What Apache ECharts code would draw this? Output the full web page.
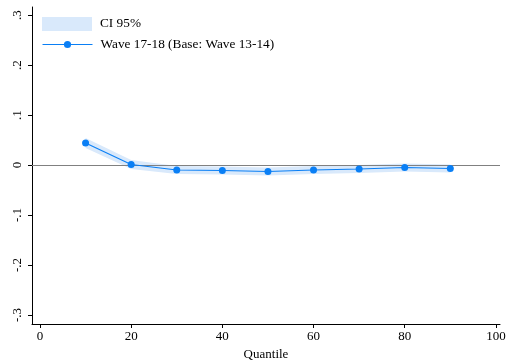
<!DOCTYPE html>
<html><head><meta charset="utf-8">
<script src="https://cdn.jsdelivr.net/npm/echarts@6/dist/echarts.min.js"></script>
<style>html,body{margin:0;padding:0;background:#fff}#c{width:508px;height:360px}</style>
</head><body><div id="c"></div>
<script>
const quantiles = [10, 20, 30, 40, 50, 60, 70, 80, 90];
const estimate = [0.044, 0.001, -0.010, -0.011, -0.013, -0.010, -0.008, -0.005, -0.007];
const ciLower = [0.034, -0.008, -0.018, -0.019, -0.021, -0.018, -0.016, -0.013, -0.015];
const ciUpper = [0.054, 0.010, -0.002, -0.003, -0.005, -0.002, 0.000, 0.003, 0.001];
const yTicks = [-0.3, -0.2, -0.1, 0, 0.1, 0.2, 0.3];
const xTicks = [0, 20, 40, 60, 80, 100];

const font = 'Liberation Serif';
const bandColor = '#d9e9fb';
const lineColor = '#0a7ff5';

const bandData = quantiles.map((q, i) => [q, ciLower[i], ciUpper[i]]);

const chart = echarts.init(document.getElementById('c'));
chart.setOption({
  animation: false,
  textStyle: {fontFamily: font},
  grid: {left: 32, right: 8, top: 7, bottom: 36, outerBoundsMode: 'none', containLabel: false},
  legend: [
    {
      orient: 'vertical', left: 42, top: 17, padding: 0,
      itemWidth: 50, itemHeight: 14, itemGap: 0,
      textStyle: {fontFamily: font, fontSize: 13.3, color: '#000', padding: [0, 0, 0, 3]},
      data: [{name: 'CI 95%', icon: 'rect', itemStyle: {color: bandColor}}]
    },
    {
      orient: 'vertical', left: 42, top: 38, padding: 0,
      itemWidth: 50, itemHeight: 9, itemGap: 0,
      lineStyle: {width: 1},
      textStyle: {fontFamily: font, fontSize: 13.3, color: '#000', padding: [0, 0, 0, 3]},
      data: [{name: 'Wave 17-18 (Base: Wave 13-14)'}]
    }
  ],
  xAxis: {
    type: 'value', min: -1.75, max: 100.9,
    name: 'Quantile', nameLocation: 'middle', nameGap: 22,
    nameTextStyle: {fontFamily: font, fontSize: 13, color: '#000'},
    axisLine: {show: true, onZero: false, lineStyle: {color: '#000', width: 1}},
    axisTick: {show: true, length: 4, customValues: xTicks, lineStyle: {color: '#000'}},
    axisLabel: {customValues: xTicks, fontFamily: font, fontSize: 13, color: '#000', margin: 6},
    splitLine: {show: false}
  },
  yAxis: {
    type: 'value', min: -0.318, max: 0.316,
    axisLine: {show: true, onZero: false, lineStyle: {color: '#000', width: 1}},
    axisTick: {show: true, length: 4, customValues: yTicks, lineStyle: {color: '#000'}},
    axisLabel: {
      customValues: yTicks, rotate: 90, fontFamily: font, fontSize: 13, color: '#000', margin: 8,
      formatter: v => {
        const r = Math.round(v * 10) / 10;
        if (r === 0) return '0';
        return (r < 0 ? '-' : '') + String(Math.abs(r)).replace(/^0/, '');
      }
    },
    splitLine: {show: false}
  },
  series: [
    {
      name: 'CI 95%', type: 'custom', silent: true,
      itemStyle: {color: bandColor},
      data: bandData,
      encode: {x: 0, y: [1, 2]},
      renderItem: (params, api) => {
        if (params.dataIndex !== 0) return null;
        const upper = bandData.map(d => api.coord([d[0], d[2]]));
        const lower = bandData.map(d => api.coord([d[0], d[1]])).reverse();
        return {type: 'polygon', shape: {points: upper.concat(lower)}, style: {fill: bandColor}};
      },
      z: 1
    },
    {
      name: 'Wave 17-18 (Base: Wave 13-14)', type: 'line',
      data: quantiles.map((q, i) => [q, estimate[i]]),
      symbol: 'circle', symbolSize: 7,
      itemStyle: {color: lineColor},
      lineStyle: {color: lineColor, width: 1.1},
      markLine: {
        silent: true, symbol: 'none', label: {show: false},
        lineStyle: {color: '#808080', width: 1, type: 'solid'},
        data: [{yAxis: 0}]
      },
      z: 5
    }
  ]
});
</script></body></html>
